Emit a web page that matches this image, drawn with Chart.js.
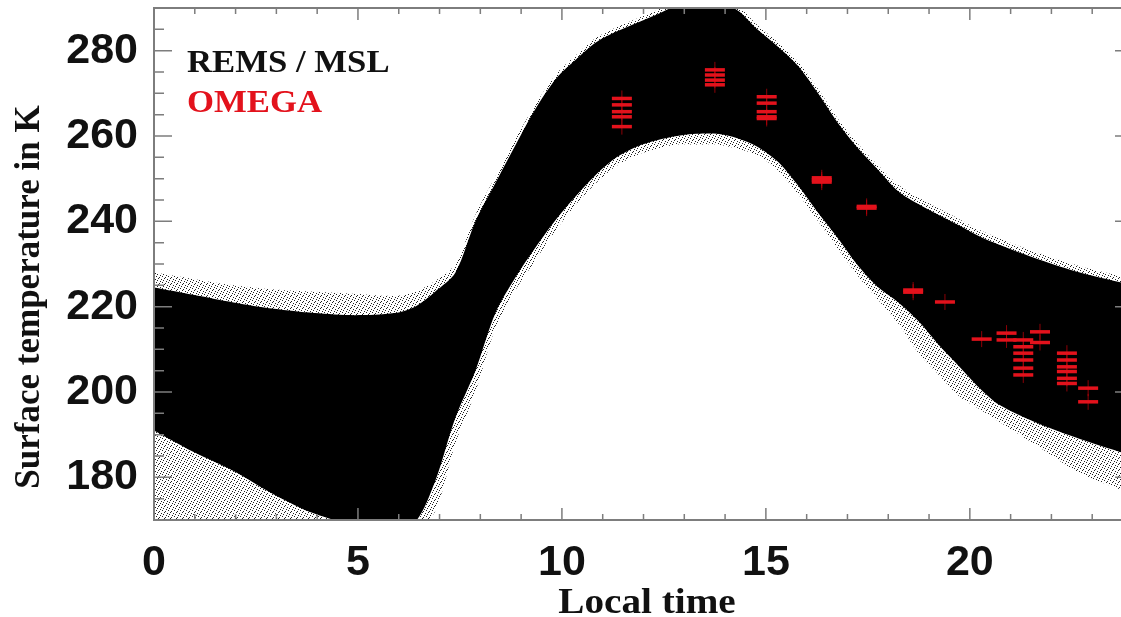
<!DOCTYPE html>
<html>
<head>
<meta charset="utf-8">
<title>Surface temperature vs local time</title>
<script src="https://cdn.jsdelivr.net/npm/chart.js@4.4.1/dist/chart.umd.min.js"></script>
<style>
  html, body { margin: 0; padding: 0; background: #fff; overflow: hidden; }
  /* the frame runs out to 24 h just past the right edge of the page */
  #wrap { width: 1121px; height: 617px; overflow: hidden; }
</style>
</head>
<body>
<div id="wrap"><canvas id="chart" width="1136" height="617"></canvas></div>
<script>
// REMS / MSL cloud, read as envelopes (K) of the dense band and of the scattered fringe
const bandHours  = [0, 0.96, 1.95, 2.94, 3.93, 4.92, 5.9, 6.4, 6.89, 7.39, 7.88, 8.37, 8.87, 9.36, 9.86, 10.35, 10.84, 11.34, 11.83, 12.33, 12.82, 13.31, 13.81, 14.3, 14.79, 15.29, 15.78, 16.28, 16.77, 17.27, 17.76, 18.25, 18.75, 19.24, 19.74, 20.23, 20.72, 21.71, 22.7, 24];
const coreTop    = [224.5, 222.8, 221, 219.5, 218.5, 218, 218.5, 220, 223.5, 228, 240, 249, 258, 266.5, 273.5, 278, 282, 284.5, 286.5, 288.5, 290.5, 291, 291, 289.5, 285, 281, 276.5, 270, 263, 257, 252, 247, 244, 241.5, 239, 236.5, 234.5, 231, 228, 225];
const coreBottom = [191, 186, 181.5, 176, 171.5, 169, 169, 169.5, 179, 194, 205, 218.5, 227, 234, 240.5, 246, 251, 255, 257.5, 259, 260, 260.5, 260.5, 259.5, 257.5, 254, 248.5, 242, 236, 229.5, 224.5, 221, 216.5, 211, 206, 201, 197, 192.5, 189, 185];
const fringeTop    = [228, 226.5, 225, 224, 223.5, 223, 222.5, 223.5, 226, 230, 241.5, 250.5, 259.5, 267.5, 274.5, 279, 283, 285.5, 287.5, 289.5, 292, 292, 292, 290.5, 286, 282, 277.5, 271, 264, 258, 253, 248.5, 245.5, 243, 240.5, 238, 236, 232.5, 229.5, 226.5];
const fringeBottom = [168, 168, 168, 168, 168, 168, 168, 168, 172, 188, 200, 215, 224, 231, 238, 244, 249, 253, 255.5, 257, 258, 258, 258, 257, 255.5, 252, 246.5, 240, 233.5, 227, 221.5, 216, 209, 204, 199, 196, 193, 187, 181, 176];

// OMEGA retrievals
const omegaHours = [11.47, 11.47, 11.47, 11.47, 11.47, 13.75, 13.75, 13.75, 13.75, 15.02, 15.02, 15.02, 15.02, 15.02, 16.37, 16.37, 16.37, 17.47, 17.47, 18.61, 18.61, 19.39, 20.29, 20.9, 20.9, 21.31, 21.31, 21.31, 21.31, 21.31, 21.31, 21.72, 21.72, 22.38, 22.38, 22.38, 22.38, 22.38, 22.38, 22.9, 22.9];
const omegaTemps = [268.8, 267.3, 265.7, 264.5, 262.2, 275.5, 274.3, 273.1, 272.0, 269.2, 267.7, 265.7, 264.5, 264.1, 249.7, 250.2, 249.2, 243.1, 243.5, 223.4, 223.9, 221.1, 212.4, 213.8, 212.2, 212.2, 210.6, 209.1, 207.5, 205.6, 204.0, 214.1, 211.6, 209.1, 207.5, 205.9, 204.8, 203.2, 202.0, 200.9, 197.7];

const xTickValues = [0, 5, 10, 15, 20];
const yTickValues = [180, 200, 220, 240, 260, 280];

const RED = '#e3121c';
const canvas = document.getElementById('chart');
const ctx0 = canvas.getContext('2d');

function pts(ys) { return bandHours.map((h, i) => ({ x: h, y: ys[i] })); }

// sparse grain for the fringe of the cloud
function speckle() {
  const c = document.createElement('canvas');
  c.width = 6; c.height = 6;
  const g = c.getContext('2d');
  g.fillStyle = '#222';
  [[0, 0], [3, 1], [5, 3], [1, 4], [4, 5], [2, 2]].forEach(([i, j]) => g.fillRect(i, j, 1, 1));
  return ctx0.createPattern(c, 'repeat');
}

const envelope = {
  pointRadius: 0, borderWidth: 0, tension: 0.3, showLine: true
};

// frame, inward ticks, axis titles and the legend text
const frameAndText = {
  id: 'frameAndText',
  afterDraw(chart) {
    const { ctx, chartArea: a, scales: { x, y } } = chart;
    ctx.save();
    ctx.strokeStyle = '#7d7d7d';
    ctx.lineWidth = 2;
    ctx.strokeRect(a.left, a.top, a.right - a.left, a.bottom - a.top);
    ctx.lineWidth = 1.5;
    ctx.beginPath();
    for (let h = 0; h <= 24; h++) {
      const px = x.getPixelForValue(h);
      const len = h % 5 === 0 ? 12 : 6;
      ctx.moveTo(px, a.bottom); ctx.lineTo(px, a.bottom - len);
      ctx.moveTo(px, a.top); ctx.lineTo(px, a.top + len);
    }
    for (let t = 170; t <= 290; t += 5) {
      const py = y.getPixelForValue(t);
      const len = t % 20 === 0 ? 18 : 10;
      ctx.moveTo(a.left, py); ctx.lineTo(a.left + len, py);
      ctx.moveTo(a.right, py); ctx.lineTo(a.right - len, py);
    }
    ctx.stroke();

    ctx.textBaseline = 'alphabetic';
    ctx.font = 'bold 31px "Liberation Serif", "Times New Roman", serif';
    ctx.save();
    ctx.translate(a.left + 33, a.top + 64);
    ctx.scale(1.12, 1);
    ctx.fillStyle = '#111';
    ctx.fillText('REMS / MSL', 0, 0);
    ctx.fillStyle = RED;
    ctx.fillText('OMEGA', 0, 40);
    ctx.restore();

    ctx.fillStyle = '#111';
    ctx.font = 'bold 35px "Liberation Serif", "Times New Roman", serif';
    ctx.save();
    ctx.translate(647, 613);
    ctx.scale(1.12, 1);
    ctx.textAlign = 'center';
    ctx.fillText('Local time', 0, 0);
    ctx.restore();

    ctx.save();
    ctx.translate(39, 297);
    ctx.rotate(-Math.PI / 2);
    ctx.textAlign = 'center';
    ctx.fillText('Surface temperature in K', 0, 0);
    ctx.restore();
    ctx.restore();
  }
};

const tickFont = { family: '"Liberation Sans", Arial, sans-serif', size: 43, weight: 'bold' };

new Chart(canvas, {
  type: 'scatter',
  data: {
    datasets: [
      { label: 'OMEGA', data: omegaHours.map((h, i) => ({ x: h, y: omegaTemps[i] })),
        pointStyle: 'line', pointRadius: 10, borderWidth: 3.5, borderColor: RED, backgroundColor: RED },
      { label: 'OMEGA bars', data: omegaHours.map((h, i) => ({ x: h, y: omegaTemps[i] })),
        pointStyle: 'cross', pointRadius: 8, borderWidth: 1, borderColor: 'rgba(200,0,10,0.7)' },
      { label: 'REMS top', data: pts(coreTop), ...envelope, fill: '+1', backgroundColor: '#000' },
      { label: 'REMS bottom', data: pts(coreBottom), ...envelope, fill: false },
      { label: 'REMS fringe top', data: pts(fringeTop), ...envelope, fill: '+1', backgroundColor: speckle() },
      { label: 'REMS fringe bottom', data: pts(fringeBottom), ...envelope, fill: false }
    ]
  },
  options: {
    responsive: false,
    animation: false,
    devicePixelRatio: 1,
    layout: { autoPadding: false, padding: { top: 8, right: 3, left: 0, bottom: 0 } },
    plugins: { legend: { display: false }, tooltip: { enabled: false } },
    scales: {
      x: {
        type: 'linear', min: 0, max: 24,
        grid: { display: false, drawTicks: false },
        border: { display: false },
        afterBuildTicks: s => { s.ticks = xTickValues.map(v => ({ value: v })); },
        afterFit: s => { s.height = 97; s.paddingLeft = 0; s.paddingRight = 0; },
        ticks: { font: tickFont, color: '#111', padding: 17, maxRotation: 0 }
      },
      y: {
        type: 'linear', min: 170, max: 290,
        grid: { display: false, drawTicks: false },
        border: { display: false },
        afterBuildTicks: s => { s.ticks = yTickValues.map(v => ({ value: v })); },
        afterFit: s => { s.width = 154; s.paddingTop = 0; s.paddingBottom = 0; },
        ticks: { font: tickFont, color: '#111', padding: 16 }
      }
    }
  },
  plugins: [frameAndText]
});
</script>
</body>
</html>
